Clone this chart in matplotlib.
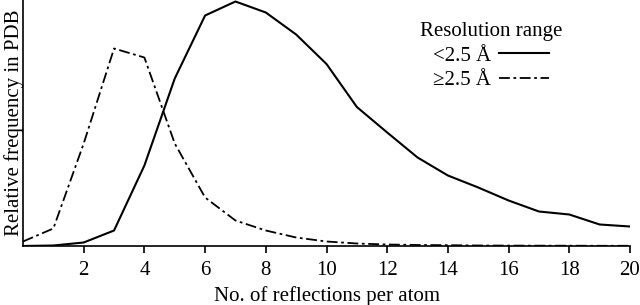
import matplotlib.pyplot as plt

plt.rcParams['font.family'] = ['Liberation Serif', 'DejaVu Serif']

# Reflections per atom (x) and relative frequency for the two resolution ranges
reflections = list(range(0, 21))
high_res = [0, 0.5, 3.5, 15.5, 80.5, 167.5, 230.5, 244.5, 233.5, 211.5, 182,
            139, 113.5, 88.5, 70.5, 58.5, 45.5, 34.5, 31.5, 21.5, 19.5]
low_res = [4.5, 17.5, 102.5, 197.5, 188.5, 102.5, 48.5, 25.5, 15.5, 8.5, 4.5,
           2.5, 1.5, 1.0, 0.8, 0.5, 0.4, 0.3, 0.3, 0.2, 0.2]
labels = ['<2.5 Å', '≥2.5 Å']
xticks = list(range(2, 21, 2))

fig = plt.figure(figsize=(6.4, 3.05), dpi=100)
ax = fig.add_axes([23 / 640, 59 / 305, 607 / 640, 246 / 305])

ax.plot(reflections, high_res, color='black', lw=1.5, label=labels[0])
ax.plot(reflections, low_res, color='black', lw=1.3, linestyle=(0, (6, 2, 1.5, 2)),
        label=labels[1])

ax.set_xlim(0, 20)
ax.set_ylim(0, 246)
ax.set_xticks(xticks)
ax.set_yticks([])
ax.tick_params(axis='x', direction='out', length=5, width=1.2, labelsize=15, pad=6)
for s in ['top', 'right']:
    ax.spines[s].set_visible(False)
for s in ['left', 'bottom']:
    ax.spines[s].set_linewidth(1.2)

ax.set_xlabel('No. of reflections per atom', fontsize=15, labelpad=4)
ax.set_ylabel('Relative frequency in PDB', fontsize=15, labelpad=-1)

leg = ax.legend(title='Resolution range', frameon=False, markerfirst=False,
                fontsize=15, title_fontsize=15, handlelength=2.4,
                loc='upper right', bbox_to_anchor=(0.902, 0.945),
                labelspacing=0.25, handletextpad=0.4, borderaxespad=0)

fig.savefig('out.png', dpi=100)
